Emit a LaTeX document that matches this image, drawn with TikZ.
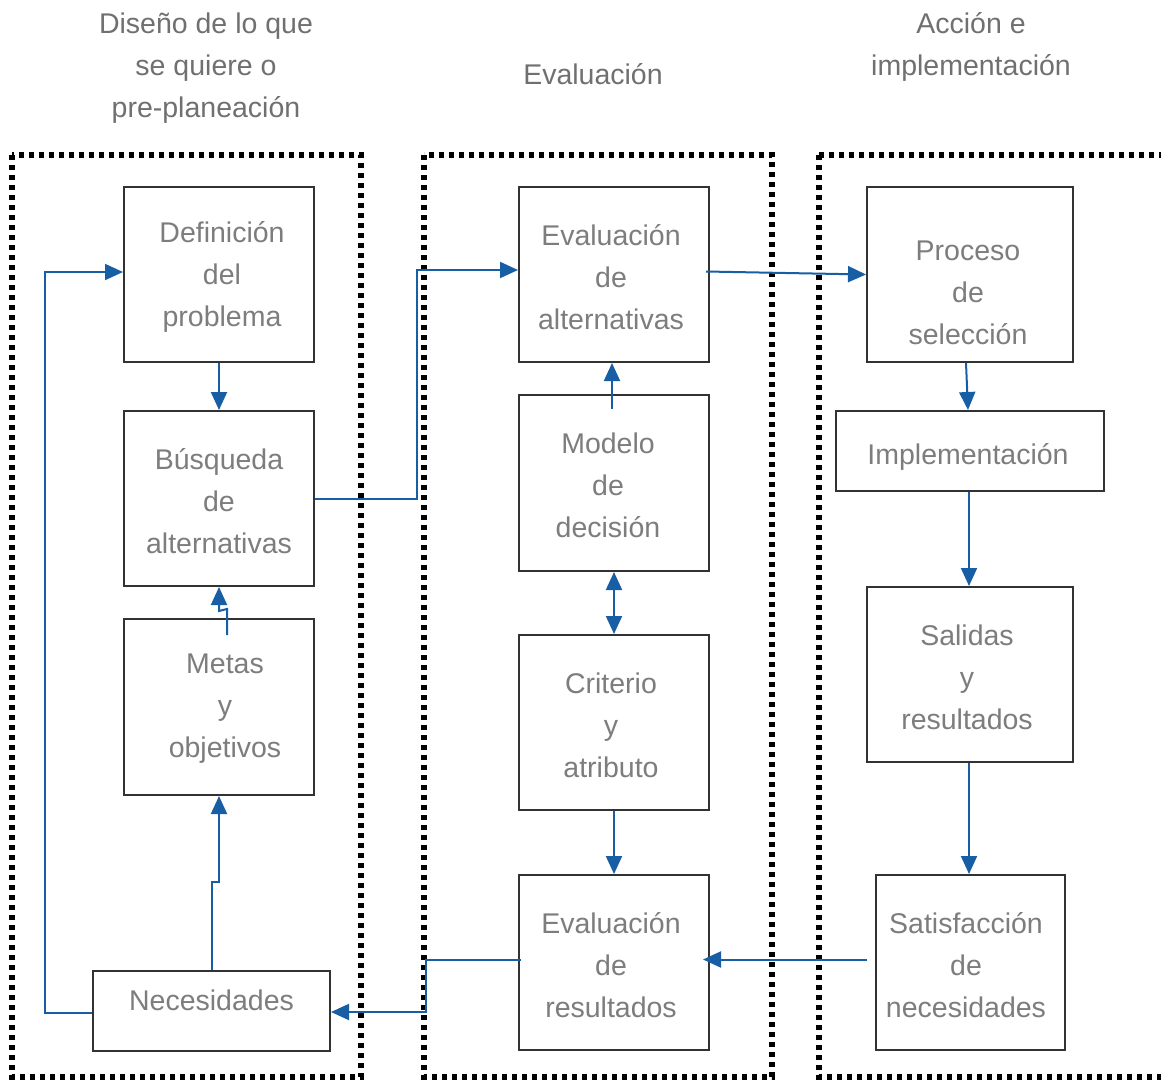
\documentclass[tikz,border=0pt]{standalone}
\usepackage{fontspec}
\setmainfont{Liberation Sans}
\usetikzlibrary{arrows.meta,calc}
\definecolor{flow}{RGB}{24,94,164}
\definecolor{txtgray}{RGB}{125,125,125}
\definecolor{edgegray}{RGB}{50,50,50}
\begin{document}
\begin{tikzpicture}[x=1pt,y=-1pt,
  stagebox/.style={draw=black,line width=5.5pt,dash pattern=on 5pt off 5pt},
  box/.style={draw=edgegray,line width=2pt,fill=white,inner sep=0pt},
  lbl/.style={align=center,inner sep=0pt,text=txtgray,
    font=\fontsize{28.5}{42}\selectfont},
  ttl/.style={lbl,text=txtgray!90!black},
  tip/.tip={Triangle[length=18pt,width=16pt]},
  arr/.style={draw=flow,line width=2pt,-tip},
  dbl/.style={draw=flow,line width=2pt,tip-tip}]
\useasboundingbox (0,0) rectangle (1161,1082);
\clip (0,0) rectangle (1161,1082);

% stage frames
\draw[stagebox] (12,155) rectangle (361,1077);
\draw[stagebox] (424,155) rectangle (772,1077);
\draw[stagebox] (819,155) -- (1175,155) (819,155) -- (819,1077) -- (1175,1077);

% stage titles
\node[ttl] (t-dis) at (206,68) {Diseño de lo que\\se quiere o\\pre-planeación};
\node[ttl] (t-eva) at (593,74) {Evaluación};
\node[ttl] (t-acc) at (971,46.5) {Acción e\\implementación};

% left column
\node[box,minimum width=190pt,minimum height=175pt] (def) at (219,274.5) {};
\node[lbl] (def-t) at (222,277) {Definición\\del\\problema};
\node[box,minimum width=190pt,minimum height=175pt] (bus) at (219,498.5) {};
\node[lbl] (bus-t) at (219,501) {Búsqueda\\de\\alternativas};
\node[box,minimum width=190pt,minimum height=176pt] (met) at (219,707) {};
\node[lbl] (met-t) at (225,709) {Metas\\y\\objetivos};
\node[box,minimum width=237pt,minimum height=80pt] (nec) at (211.5,1011) {};
\node[lbl] (nec-t) at (211.5,1000) {Necesidades};

% middle column
\node[box,minimum width=190pt,minimum height=175pt] (eva) at (614,274.5) {};
\node[lbl] (eva-t) at (611,277) {Evaluación\\de\\alternativas};
\node[box,minimum width=190pt,minimum height=176pt] (mod) at (614,483) {};
\node[lbl] (mod-t) at (608,485) {Modelo\\de\\decisión};
\node[box,minimum width=190pt,minimum height=175pt] (cri) at (614,722.5) {};
\node[lbl] (cri-t) at (611,725) {Criterio\\y\\atributo};
\node[box,minimum width=190pt,minimum height=175pt] (evr) at (614,962.5) {};
\node[lbl] (evr-t) at (611,965) {Evaluación\\de\\resultados};

% right column
\node[box,minimum width=206pt,minimum height=175pt] (pro) at (970,274.5) {};
\node[lbl] (pro-t) at (968,293) {Proceso\\de\\selección};
\node[box,minimum width=268pt,minimum height=80pt] (imp) at (970,451) {};
\node[lbl] (imp-t) at (968,457) {Implementación};
\node[box,minimum width=206pt,minimum height=175pt] (sal) at (970,674.5) {};
\node[lbl] (sal-t) at (967,677) {Salidas\\y\\resultados};
\node[box,minimum width=189pt,minimum height=175pt] (sat) at (970.5,962.5) {};
\node[lbl] (sat-t) at (966,965) {Satisfacción\\de\\necesidades};

% left column flow
\draw[arr] (def.south) -- (bus.north);
\draw[arr] ($(met.north)+(8,17)$) -- ($(met.north)+(8,-9)$) -- ($(bus.south)+(0,24)$) -- (bus.south);
\draw[arr] (nec.north) -- (nec.north |- 0,882) -- (met.south |- 0,882) -- (met.south);
\draw[arr] ($(nec.west)+(0,2)$) -- (45,1013) -- (45,272) -- (def.west |- 0,272);

% towards evaluation
\draw[arr] (bus.east) -- (417,498.5) -- (417,270) -- (eva.west |- 0,270);
\draw[arr] ($(mod.north)+(-2,15)$) -- ($(eva.south)+(-2,0)$);
\draw[dbl] (mod.south) -- (cri.north);
\draw[arr] (cri.south) -- (evr.north);

% towards action
\draw[arr] ($(eva.east)+(-4,-3)$) -- (pro.west);
\draw[arr] ($(pro.south)+(-4,0)$) -- ($(imp.north)+(-2,0)$);
\draw[arr] ($(imp.south)+(-1,0)$) -- ($(sal.north)+(-1,0)$);
\draw[arr] ($(sal.south)+(-1,0)$) -- ($(sat.north)+(-1.5,0)$);

% feedback
\draw[arr] ($(sat.west)+(-8,-3)$) -- ($(evr.east)+(-7,-3)$);
\draw[arr] ($(evr.west)+(3,-3)$) -- (426,959.5) -- (426,1012) -- ($(nec.east)+(0,1)$);
\end{tikzpicture}
\end{document}
